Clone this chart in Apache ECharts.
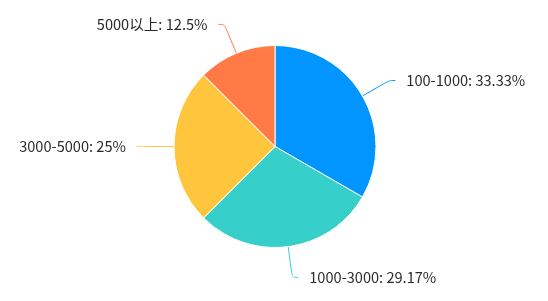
<!DOCTYPE html>
<html>
<head>
<meta charset="utf-8">
<script src="https://cdn.jsdelivr.net/npm/echarts@6/dist/echarts.min.js"></script>
<style>html,body{margin:0;padding:0;background:#fff}#c{width:548px;height:301px}</style>
</head>
<body>
<div id="c"></div>
<script>
var categories = ['100-1000', '1000-3000', '3000-5000', '5000以上'];
var values = [8, 7, 6, 3];
var colors = ['#0095FF', '#36CFC9', '#FFC53D', '#FF7A45'];

var chart = echarts.init(document.getElementById('c'), null, {renderer: 'canvas'});
chart.setOption({
  animation: false,
  color: colors,
  series: [{
    type: 'pie',
    center: [275, 146.5],
    radius: 101,
    startAngle: 90,
    data: categories.map(function (c, i) { return {name: c, value: values[i]}; }),
    itemStyle: {borderColor: '#fff', borderWidth: 1},
    label: {
      formatter: '{b}: {d}%',
      fontSize: 14.6,
      color: '#2b2b2b',
      fontFamily: '"Noto Sans CJK SC", "Noto Sans", sans-serif',
      distanceToLabelLine: 11,
      padding: [8, 0, 0, 0]
    },
    labelLine: {length: 31, length2: 6, smooth: true, lineStyle: {width: 1}}
  }]
});
</script>
</body>
</html>
